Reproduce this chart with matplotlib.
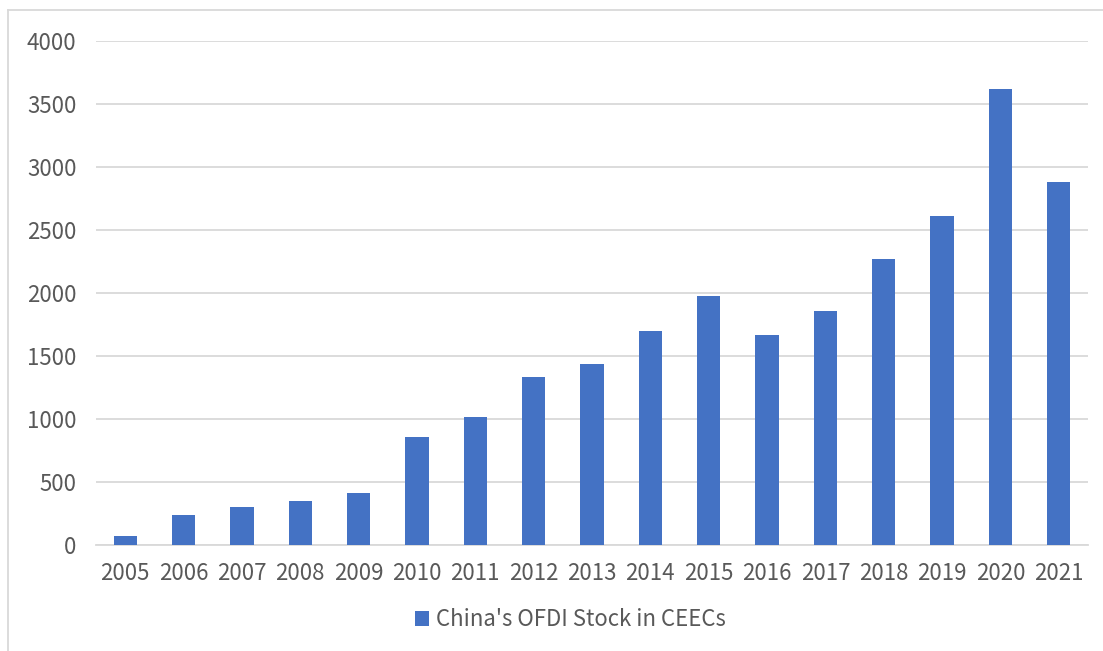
import matplotlib.pyplot as plt
from matplotlib.lines import Line2D

plt.rcParams['font.family'] = ['Noto Sans CJK SC', 'DejaVu Sans']

years = ['2005', '2006', '2007', '2008', '2009', '2010', '2011', '2012', '2013',
         '2014', '2015', '2016', '2017', '2018', '2019', '2020', '2021']
ofdi_stock = [71, 240, 301, 347, 410, 855, 1012, 1333, 1436,
              1702, 1975, 1667, 1855, 2270, 2608, 3617, 2882]
y_ticks = [0, 500, 1000, 1500, 2000, 2500, 3000, 3500, 4000]

bar_color = '#4472c4'
grid_color = '#d9d9d9'
text_color = '#595959'

W, H = 1103, 651
fig = plt.figure(figsize=(W / 100, H / 100), dpi=100)
ax = fig.add_axes([96 / W, 1 - 545 / H, (1088 - 96) / W, (545 - 41) / H])

x = range(len(years))
ax.bar(x, ofdi_stock, width=0.4, color=bar_color, label="China's OFDI Stock in CEECs", zorder=3)

ax.set_xlim(-0.5, len(years) - 0.5)
ax.set_ylim(0, 4000)
ax.set_yticks(y_ticks)
ax.set_yticklabels([str(v) for v in y_ticks])
ax.set_xticks(list(x))
ax.set_xticklabels(years)
ax.grid(axis='y', color=grid_color, linewidth=1.3, zorder=0)
ax.tick_params(axis='both', length=0, labelsize=16, labelcolor=text_color)
for lbl in ax.get_xticklabels() + ax.get_yticklabels():
    lbl.set_fontweight('light')
ax.tick_params(axis='y', pad=14)
ax.tick_params(axis='x', pad=12)
for side in ['top', 'right', 'left']:
    ax.spines[side].set_visible(False)
ax.spines['bottom'].set_color(grid_color)
ax.spines['bottom'].set_linewidth(1.3)

fig.legend(loc='center', bbox_to_anchor=(570 / W, 1 - 620 / H), frameon=False,
           prop={'size': 16, 'weight': 'light'}, labelcolor=text_color,
           handlelength=0.65, handleheight=0.65, handletextpad=0.3)

# chart area border (top and left edges only show in the frame)
fig.add_artist(Line2D([8 / W, 8 / W], [0, 1 - 10 / H], transform=fig.transFigure,
                      color=grid_color, linewidth=1.3))
fig.add_artist(Line2D([8 / W, 1], [1 - 10 / H, 1 - 10 / H], transform=fig.transFigure,
                      color=grid_color, linewidth=1.3))

fig.savefig('out.png', dpi=100)
